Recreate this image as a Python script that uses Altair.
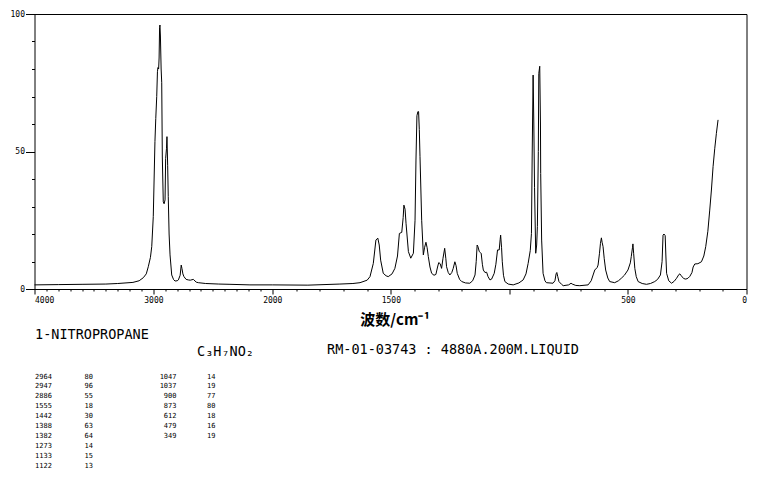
import altair as alt
import pandas as pd

# Raman spectrum of 1-nitropropane (wavenumber cm-1, relative intensity)
wavenumber = [4000, 3800, 3600, 3400, 3300, 3172, 3120, 3085, 3060, 3043, 3025, 3014, 3001, 2994, 2987,
              2980, 2972, 2966, 2962, 2956, 2952, 2948, 2945, 2941, 2935, 2930, 2925, 2917, 2910, 2902,
              2897, 2890, 2886, 2880, 2875, 2868, 2860, 2846, 2830, 2818, 2800, 2790, 2775, 2766, 2760,
              2752, 2743, 2725, 2706, 2690, 2664, 2640, 2622, 2560, 2450, 2356, 2188, 2000, 1850, 1715,
              1660, 1630, 1600, 1588, 1574, 1563, 1555, 1549, 1543, 1532, 1520, 1511, 1495, 1483, 1472,
              1464, 1454, 1448, 1445, 1440, 1436, 1426, 1416, 1405, 1398, 1394, 1390, 1386, 1383, 1380,
              1377, 1370, 1363, 1358, 1352, 1347, 1342, 1335, 1328, 1318, 1310, 1303, 1298, 1292, 1286,
              1280, 1273, 1268, 1265, 1258, 1251, 1243, 1237, 1230, 1225, 1220, 1210, 1201, 1185, 1167,
              1155, 1145, 1140, 1136, 1133, 1127, 1122, 1119, 1114, 1110, 1103, 1096, 1090, 1082, 1075,
              1064, 1057, 1050, 1043, 1039, 1037, 1033, 1030, 1025, 1019, 1005, 984, 960, 942, 930,
              921, 912, 907, 904, 900, 897, 894, 889, 885, 882, 878, 876, 872, 869, 868,
              864, 858, 850, 844, 816, 808, 803, 800, 796, 791, 780, 773, 750, 740, 735,
              720, 703, 668, 655, 647, 640, 630, 626, 620, 616, 612, 609, 605, 600, 594,
              585, 577, 556, 540, 528, 515, 500, 490, 486, 481, 479, 476, 471, 465, 457,
              440, 422, 405, 387, 375, 363, 356, 352, 348, 343, 340, 337, 328, 316, 305,
              295, 285, 281, 275, 265, 256, 247, 239, 230, 225, 218, 205, 190, 180, 172,
              163, 155, 148, 141, 134, 127, 120]
intensity = [1.5, 1.6, 1.7, 1.8, 2.0, 2.4, 3.0, 4.1, 5.5, 8.1, 11.5, 15.4, 26.3, 40, 53.6,
             62, 70, 79, 80.5, 80, 84, 95, 96, 92, 80, 75, 48, 31.7, 31, 32.4,
             47.5, 51, 55.4, 45, 33.6, 20, 12.4, 5.1, 3.4, 2.9, 3.0, 3.3, 5.0, 8.7, 7.5,
             5.5, 4.5, 3.5, 3.3, 3.2, 3.5, 2.5, 2.3, 2.0, 1.8, 1.7, 1.5, 1.5, 1.4, 1.8,
             2.0, 2.3, 3.2, 4.5, 9.3, 17.8, 18.5, 16, 10.5, 5.7, 4.8, 4.5, 5.5, 7.5, 12,
             20.2, 20.6, 26, 30.5, 29, 23.9, 13.6, 11.2, 13, 25, 46.9, 63, 64.5, 64.5, 58,
             48.1, 25, 12.4, 15, 17, 15, 11.8, 8, 5.7, 5.0, 5.3, 8, 9.6, 9.2, 7.5,
             11.2, 14.8, 11, 8.1, 6, 5.1, 6, 7.5, 9.9, 8.5, 5.7, 3.5, 2.7, 2.2, 2.1,
             3, 5.1, 10, 16, 15.5, 13.6, 13.2, 13, 9, 6.9, 6.0, 6.1, 4.5, 3.3, 3.6,
             5.7, 9, 14.2, 14.2, 18, 19.6, 15, 9.9, 5, 2.7, 1.8, 1.5, 2.2, 3.3, 5.5,
             9.3, 14, 20.2, 48, 77.8, 60, 37, 13, 16, 22.7, 50, 78.4, 81, 60, 42,
             17.8, 5.7, 3.0, 2.3, 2.1, 3, 5.5, 6, 4.5, 2.7, 1.7, 1.2, 1.5, 2.1, 1.8,
             1.3, 1.2, 1.5, 3, 5.1, 6.9, 7.8, 8.7, 13, 16.6, 18.6, 17, 15.4, 11, 6.9,
             4, 2.7, 2.3, 3, 3.9, 5, 6.9, 9.5, 11.8, 15, 16.4, 13, 7.5, 4.5, 2.7,
             2.0, 1.7, 2, 2.7, 3.5, 5.1, 10, 19.6, 20, 19.4, 12, 5.7, 3, 2.1, 2.8,
             3.9, 5.3, 5.5, 4.8, 3.8, 3.6, 3.9, 4.6, 6, 8, 9.1, 9.2, 9.9, 12, 15.4,
             21, 28.7, 36, 44.5, 51, 56.6, 61.5]

x_major = [4000, 3000, 2000, 1500, 1000, 500, 0]
x_minor = [v for v in range(0, 4001, 100) if v not in x_major]
y_major = [0, 50, 100]
y_minor = [10, 20, 30, 40, 60, 70, 80, 90]

compound = "1-NITROPROPANE"
formula = "C₃H₇NO₂"
sample = "RM-01-03743 : 4880A.200M.LIQUID"
peak_wn_1 = ["2964", "2947", "2886", "1555", "1442", "1388", "1382", "1273", "1133", "1122"]
peak_int_1 = ["80", "96", "55", "18", "30", "63", "64", "14", "15", "13"]
peak_wn_2 = ["1047", "1037", "900", "873", "612", "479", "349"]
peak_int_2 = ["14", "19", "77", "80", "18", "16", "19"]

df = pd.DataFrame({"wn": wavenumber, "I": intensity})

W, H = 712, 275
xscale = alt.Scale(domain=[4000, 2000, 0], range=[0, 237.8, W], nice=False, zero=False)
yscale = alt.Scale(domain=[0, 100], nice=False, zero=False)

MONO = "DejaVu Sans Mono"

line = alt.Chart(df).mark_line(color="black", strokeWidth=1, interpolate="linear").encode(
    x=alt.X("wn:Q", scale=xscale,
            axis=alt.Axis(orient="bottom", values=x_major, format="d",
                          labelExpr="datum.value == 1000 ? '' : datum.label",
                          tickSize=5, tickColor="black", domain=False, grid=False,
                          labelFont=MONO, labelFontSize=8, labelColor="black", labelPadding=2,
                          title="波数/cm⁻¹", titleFont="Noto Sans CJK SC", titleFontSize=15,
                          titleFontWeight="bold", titleColor="black", titlePadding=8,
                          titleX=360, titleAlign="center")),
    y=alt.Y("I:Q", scale=yscale,
            axis=alt.Axis(orient="left", values=y_major, format="d",
                          tickSize=9, tickColor="black", domain=False, grid=False,
                          labelFont=MONO, labelFontSize=8, labelColor="black", labelPadding=1,
                          title=None)),
)

minor = alt.Chart(df).mark_point(opacity=0).encode(
    x=alt.X("wn:Q", scale=xscale,
            axis=alt.Axis(orient="bottom", values=x_minor, labels=False, tickSize=2,
                          tickColor="black", domain=False, grid=False, title=None)),
    y=alt.Y("I:Q", scale=yscale,
            axis=alt.Axis(orient="left", values=y_minor, labels=False, tickSize=3,
                          tickColor="black", domain=False, grid=False, title=None)),
)

def label(txt, x, y, size, align="left"):
    return alt.Chart(pd.DataFrame({"t": [txt]})).mark_text(
        font=MONO, fontSize=size, color="black", align=align, baseline="middle"
    ).encode(text="t:N", x=alt.value(x), y=alt.value(y))

def block(lines, x, y, align="left"):
    return alt.Chart(pd.DataFrame({"k": [0]})).mark_text(
        font=MONO, fontSize=7, color="black", align=align, baseline="top", lineHeight=9.9
    ).encode(text=alt.value(lines), x=alt.value(x), y=alt.value(y))

texts = [
    label(compound, 0.5, 321, 13.5),
    label(formula, 162.5, 338, 13.5),
    label(sample, 292.5, 336, 13.5),
    block(peak_wn_1, 0.5, 358.5),
    block(peak_int_1, 50, 358.5),
    block(peak_wn_2, 142, 358.5, align="right"),
    block(peak_int_2, 172.5, 358.5),
]

chart = alt.layer(line, minor, *texts).resolve_axis(x="independent", y="independent").properties(
    width=W, height=H,
    autosize=alt.AutoSizeParams(type="none"),
    padding={"left": 26.5, "top": 6, "right": 6, "bottom": 180},
    background="white",
).configure_view(stroke="black", strokeWidth=1)

chart.save("out.html", embed_options={"renderer": "svg", "actions": False})
